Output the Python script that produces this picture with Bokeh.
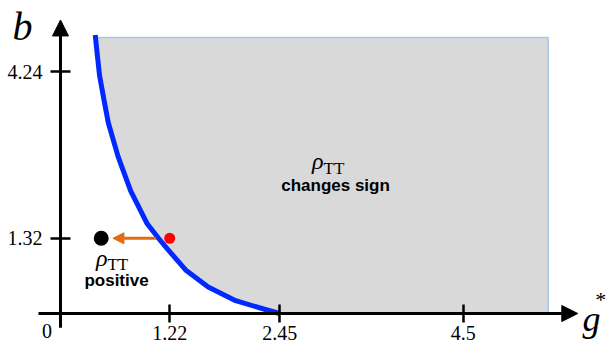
from bokeh.plotting import figure
from bokeh.models import Range1d, FixedTicker, Arrow, NormalHead
from bokeh.core.properties import value
from bokeh.embed import file_html
from bokeh.resources import INLINE
import numpy as np

# ---------------- data ----------------
# boundary curve b(g*) where rho_TT changes sign
curve_g = [0.388, 0.412, 0.437, 0.485, 0.534, 0.642, 0.677, 0.784, 0.969, 1.095, 1.196, 1.405, 1.650, 1.957, 2.288, 2.45]
curve_b = [4.884, 4.526, 4.168, 3.754, 3.347, 2.760, 2.609, 2.153, 1.574, 1.32, 1.129, 0.754, 0.465, 0.225, 0.070, 0.0]
region_top_b = 4.84
region_right_g = 5.45

# points: black (moved) and red (original)
black_g = [0.455]
black_b = [1.32]
red_g = [1.22]
red_b = [1.32]
move_from_g = 1.065
move_to_g = 0.586
move_b = 1.32

x_ticks = [1.22, 2.45, 4.5]
x_tick_labels = ["1.22", "2.45", "4.5"]
y_ticks = [1.32, 4.24]
y_tick_labels = ["1.32", "4.24"]
origin_label = "0"
x_title = "g"
x_title_sup = "*"
y_title = "b"
rho_symbol = "ρ"
rho_sub = "TT"
region_texts = ["changes sign", "positive"]

# ---------------- figure ----------------
p = figure(width=608, height=343, x_range=Range1d(-0.6704, 6.1229), y_range=Range1d(-0.5263, 5.4912),
           output_backend="svg", toolbar_location=None, min_border=0)
p.outline_line_color = None
p.grid.visible = False
p.background_fill_color = "white"
p.border_fill_color = "white"

# shaded region
cg = np.array(curve_g)
cb = np.array(curve_b)
top_g = float(np.interp(region_top_b, cb[::-1], cg[::-1]))
mask = cb <= region_top_b
patch_x = [top_g] + list(cg[mask]) + [region_right_g, region_right_g]
patch_y = [region_top_b] + list(cb[mask]) + [0.0, region_top_b]
p.patch(patch_x, patch_y, fill_color="#d9d9d9", line_color=None)
p.line([top_g, region_right_g, region_right_g], [region_top_b, region_top_b, 0.0],
       line_color="#a7c7ea", line_width=1.5)

# curve
p.line(curve_g, curve_b, line_color="#0028ff", line_width=5, line_join="round")

# axes (library axes placed at the origin)
p.xaxis.fixed_location = 0
p.yaxis.fixed_location = 0
p.xaxis.ticker = FixedTicker(ticks=x_ticks)
p.yaxis.ticker = FixedTicker(ticks=y_ticks)
p.xaxis.major_label_overrides = dict(zip(x_ticks, x_tick_labels))
p.yaxis.major_label_overrides = dict(zip(y_ticks, y_tick_labels))
for ax in (p.xaxis, p.yaxis):
    ax.axis_line_color = None
    ax.minor_tick_line_color = None
    ax.major_tick_line_color = "black"
    ax.major_tick_line_width = 2.5
    ax.major_label_text_font = "Liberation Serif"
    ax.major_label_text_font_size = "20px"
    ax.major_label_text_color = "black"
p.xaxis.major_tick_in = 9
p.xaxis.major_tick_out = 9
p.xaxis.major_label_standoff = 3
p.yaxis.major_tick_in = 10
p.yaxis.major_tick_out = 10
p.yaxis.major_label_standoff = 8

p.add_layout(Arrow(end=NormalHead(size=16, fill_color="black", line_color="black", line_width=1),
                   x_start=-0.246, y_start=0, x_end=5.78, y_end=0, line_width=3, line_color="black"))
p.add_layout(Arrow(end=NormalHead(size=16, fill_color="black", line_color="black", line_width=1),
                   x_start=0, y_start=-0.25, x_end=0, y_end=5.15, line_width=3, line_color="black"))

# origin label and axis titles
p.text(x=[-0.151], y=[-0.30], text=[origin_label], text_font=value("Liberation Serif"),
       text_font_size="20px", text_align="center", text_baseline="middle", text_color="black")
p.text(x=[-0.536], y=[5.03], text=[y_title], text_font=value("Liberation Serif"), text_font_style="italic",
       text_font_size="40px", text_align="left", text_baseline="alphabetic", text_color="black")
p.text(x=[5.832], y=[-0.088], text=[x_title], text_font=value("Liberation Serif"), text_font_style="italic",
       text_font_size="36px", text_align="left", text_baseline="alphabetic", text_color="black")
p.text(x=[5.975], y=[0.245], text=[x_title_sup], text_font=value("Liberation Serif"),
       text_font_size="22px", text_align="left", text_baseline="alphabetic", text_color="black")

# points and arrow
p.add_layout(Arrow(end=NormalHead(size=11, fill_color="#e36c12", line_color="#e36c12", line_width=1),
                   x_start=move_from_g, y_start=move_b, x_end=move_to_g, y_end=move_b,
                   line_width=3, line_color="#e36c12"))
p.scatter(black_g, black_b, size=15, fill_color="black", line_color=None)
p.scatter(red_g, red_b, size=11, fill_color="#ff0000", line_color=None)

# region annotations
p.text(x=[2.939, 0.525], y=[2.667, 0.982], text=[rho_symbol, rho_symbol], text_font=value("Liberation Serif"),
       text_font_style="italic", text_font_size="24px", text_align="right", text_baseline="alphabetic",
       text_color="black")
p.text(x=[2.939, 0.525], y=[2.544, 0.860], text=[rho_sub, rho_sub], text_font=value("Liberation Serif"),
       text_font_size="17px", text_align="left", text_baseline="alphabetic", text_color="black")
p.text(x=[3.073, 0.626], y=[2.246, 0.579], text=region_texts, text_font=value("Liberation Sans"),
       text_font_style="bold", text_font_size="17px", text_align="center", text_baseline="middle",
       text_color="black")

open("out.html", "w").write(file_html(p, INLINE))
